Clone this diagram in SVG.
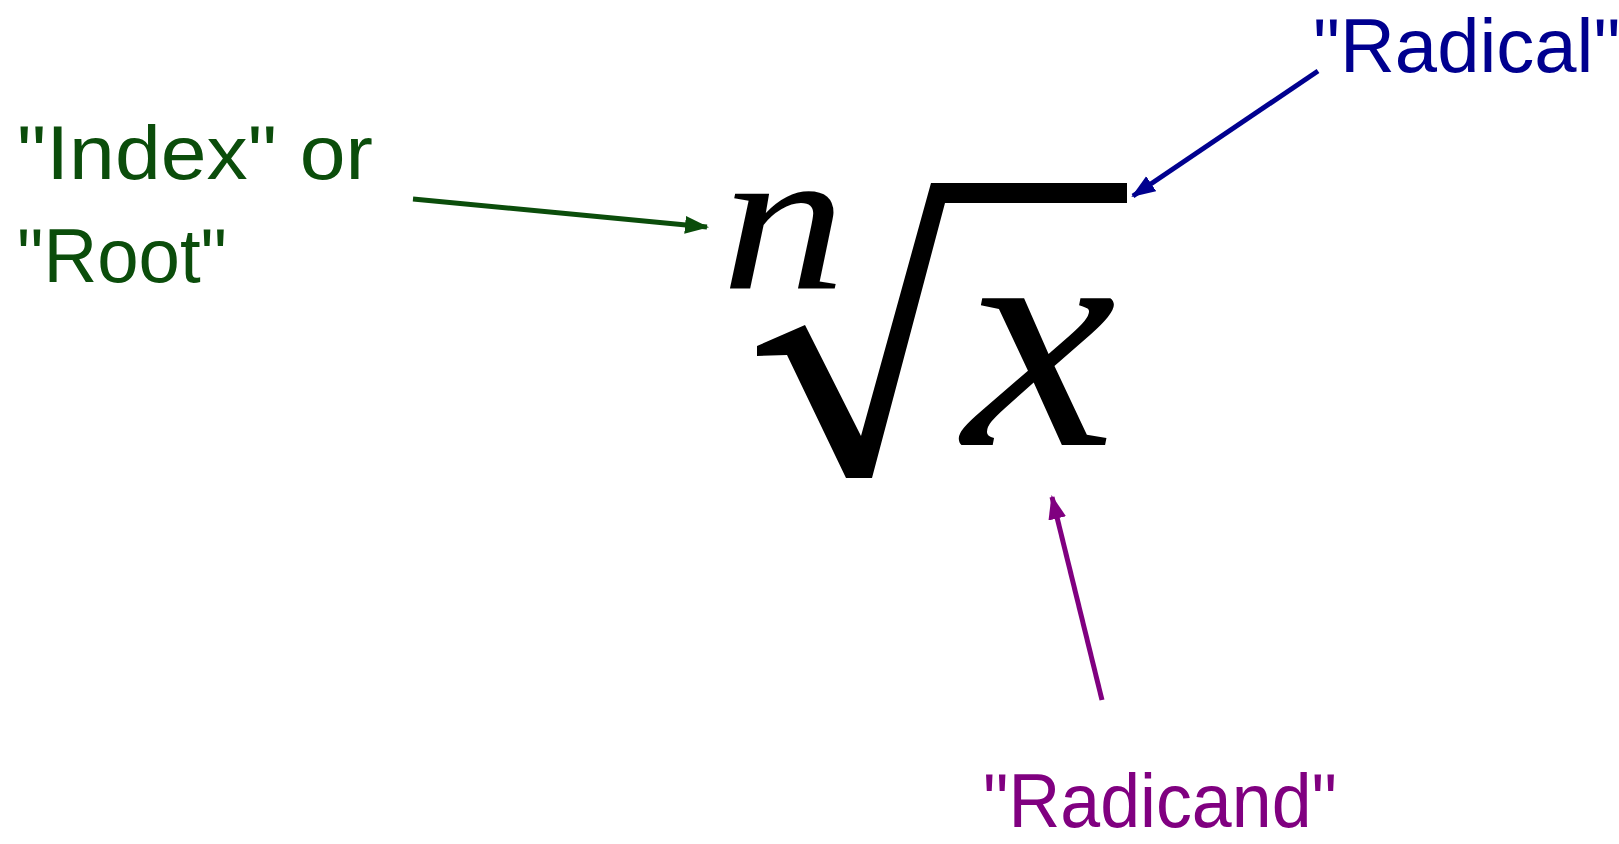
<svg xmlns="http://www.w3.org/2000/svg" width="1619" height="844" viewBox="0 0 1619 844">
<style>
.lbl{font-family:"Liberation Sans","DejaVu Sans",sans-serif;font-size:76px;}
.math{font-family:"Liberation Serif","DejaVu Serif",serif;font-style:italic;fill:#000;}
.conn{fill:none;stroke-width:5;stroke-linecap:butt;}
</style>
<defs>
<marker id="ahG" markerUnits="userSpaceOnUse" markerWidth="26" markerHeight="22" refX="22" refY="9" orient="auto"><path d="M0,0 L24,9 L0,18 Z" fill="#0b4d0b"/></marker>
<marker id="ahB" markerUnits="userSpaceOnUse" markerWidth="26" markerHeight="22" refX="22" refY="9" orient="auto"><path d="M0,0 L24,9 L0,18 Z" fill="#00008f"/></marker>
<marker id="ahP" markerUnits="userSpaceOnUse" markerWidth="26" markerHeight="22" refX="22" refY="9" orient="auto"><path d="M0,0 L24,9 L0,18 Z" fill="#800080"/></marker>
</defs>
<rect width="1619" height="844" fill="#fff"/>
<g id="expression">
<text class="math" transform="translate(721,288) scale(1.22,1)" x="0" y="0" font-size="205">n</text>
<path d="M757,356 L757,346 L805,325 L861,436 L931,183 L1127,183 L1127,203 L945,203 L872,478 L846,478 L787,355 Z" fill="#000"/>
<text class="math" transform="translate(963,445) scale(1.08,1)" x="0" y="0" font-size="320">x</text>
</g>
<g id="index-label">
<text class="lbl" x="17" y="179" fill="#0b4d0b" textLength="356" lengthAdjust="spacingAndGlyphs">"Index" or</text>
<text class="lbl" x="17" y="282" fill="#0b4d0b" textLength="210" lengthAdjust="spacingAndGlyphs">"Root"</text>
</g>
<g id="radical-label">
<text class="lbl" x="1313" y="72" fill="#00008f" font-size="74">"Radical"</text>
</g>
<g id="radicand-label">
<text class="lbl" x="983" y="827" fill="#800080" textLength="354" lengthAdjust="spacingAndGlyphs">"Radicand"</text>
</g>
<g id="connectors">
<line class="conn" x1="413" y1="199" x2="707" y2="227" stroke="#0b4d0b" marker-end="url(#ahG)"/>
<line class="conn" x1="1318" y1="71" x2="1133" y2="196" stroke="#00008f" marker-end="url(#ahB)"/>
<line class="conn" x1="1102" y1="700" x2="1052" y2="497" stroke="#800080" marker-end="url(#ahP)"/>
</g>
</svg>
